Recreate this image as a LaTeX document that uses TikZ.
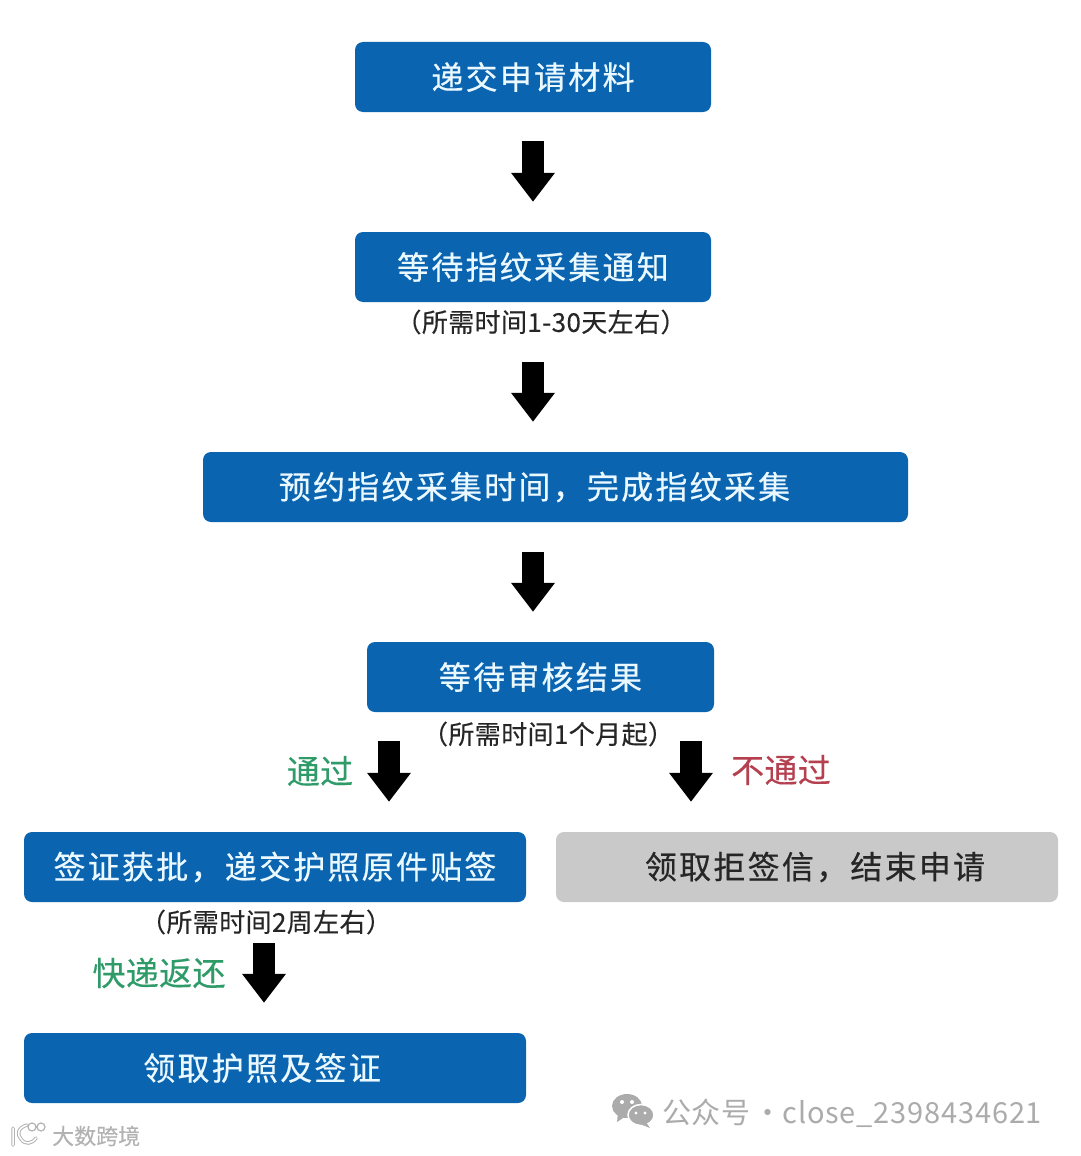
\documentclass[tikz,border=0pt]{standalone}
\usepackage{fontspec}
\setmainfont{Noto Sans CJK SC}
\usetikzlibrary{arrows.meta}
\definecolor{boxblue}{HTML}{0B64B0}
\definecolor{boxgrey}{HTML}{C9C9C9}
\definecolor{boxtext}{HTML}{EAF8FF}
\definecolor{passgreen}{HTML}{2E9B68}
\definecolor{failred}{HTML}{B5404F}
\definecolor{markgrey}{HTML}{ABABAB}
\tikzset{
	bluebox/.style={fill=boxblue, rounded corners=8pt, inner sep=0pt, minimum height=70pt, text=boxtext, font=\fontsize{32}{36}\selectfont\addfontfeature{LetterSpace=7,FakeBold=0.5}},
	greybox/.style={bluebox, fill=boxgrey, text=black!85},
	notetext/.style={text=black!85, font=\fontsize{26}{30}\selectfont\addfontfeature{LetterSpace=1.5,FakeBold=0.3}},
	passtext/.style={text=passgreen, font=\fontsize{33}{38}\selectfont\addfontfeature{LetterSpace=1,FakeBold=0.3}},
	failtext/.style={passtext, text=failred},
	marktext/.style={text=markgrey, font=\fontsize{29}{34}\selectfont\addfontfeature{LetterSpace=2.8}},
	fatarrow/.style={line width=22pt, -{Triangle[length=29pt,width=42pt]}}
}
\begin{document}
\begin{tikzpicture}[x=1pt,y=-1pt]
		\useasboundingbox (0,0) rectangle (1080,1156);
		\node (box1) [bluebox, minimum width=356pt] at (533,77) {递交申请材料};
		\node (box2) [bluebox, minimum width=356pt] at (533,267) {等待指纹采集通知};
		\node (box3) [bluebox, minimum width=705pt] at (555.5,487) {\hspace*{-42pt}\raisebox{2pt}{预约指纹采集时间，完成指纹采集}};
		\node (box4) [bluebox, minimum width=347pt] at (540.5,677) {等待审核结果};
		\node (box5) [bluebox, minimum width=502pt] at (275,867) {\raisebox{2pt}{签证获批，递交护照原件贴签}};
		\node (box6) [greybox, minimum width=502pt] at (807,867) {\hspace*{16pt}领取拒签信，结束申请};
		\node (box7) [bluebox, minimum width=502pt] at (275,1068) {\hspace*{-26pt}领取护照及签证};

		\node (note1) [notetext] at (541,322) {（所需时间1-30天左右）};
		\node (note2) [notetext] at (548,734) {（所需时间1个月起）};
		\node (note3) [notetext] at (266,922) {（所需时间2周左右）};
		\node (label1) [passtext] at (320,771) {通过};
		\node (label2) [failtext] at (781,770) {不通过};
		\node (label3) [passtext] at (159,973) {快递返还};

		\coordinate (passline) at (389,0);
		\coordinate (failline) at (691,0);
		\coordinate (mailline) at (264,0);

		% Arrows
		\draw[fatarrow, shorten <=29pt, shorten >=30pt] (box1.south) -- (box2.north);
		\draw[fatarrow, shorten <=60pt, shorten >=30pt] (box2.south) -- (box2.south |- box3.north);
		\draw[fatarrow, shorten <=30pt, shorten >=30pt] (box2.south |- box3.south) -- (box2.south |- box4.north);
		\draw[fatarrow, shorten <=29pt, shorten >=30pt] (box4.south -| passline) -- (box5.north -| passline);
		\draw[fatarrow, shorten <=29pt, shorten >=30pt] (box4.south -| failline) -- (box6.north -| failline);
		\draw[fatarrow, shorten <=41pt, shorten >=30pt] (box5.south -| mailline) -- (box7.north -| mailline);

		% Marks
		\fill[markgrey] (627,1106) ellipse [x radius=15, y radius=12];
		\fill[markgrey] (618,1113) -- (617,1122) -- (626,1116) -- cycle;
		\fill[markgrey, draw=white, line width=1.5pt] (641,1115) ellipse [x radius=13, y radius=10.5];
		\fill[markgrey] (646,1122) -- (650,1128) -- (640,1124) -- cycle;
		\fill[white] (622,1102) circle (2);
		\fill[white] (632,1102) circle (2);
		\fill[white] (636,1113) circle (1.6);
		\fill[white] (645,1113) circle (1.6);
		\node (mark1) [marktext, anchor=west, inner sep=0pt] at (662,1113) {公众号\hspace{-5pt} · \hspace{-7pt}close\_2398434621};
		\node (mark2) [marktext, anchor=west, inner sep=0pt, text=black!30, font=\fontsize{22}{26}\selectfont\addfontfeature{FakeBold=0.4}] at (52,1136) {大数跨境};
		\draw[black!30, line width=3.5pt, line cap=round] (13,1128) -- (13,1145) (27,1125) .. controls (17,1128) and (17,1135) .. (21,1139) .. controls (25,1145) and (32,1144) .. (36,1138);
		\draw[white, line width=1.5pt, line cap=round] (13,1128) -- (13,1145) (27,1125) .. controls (17,1128) and (17,1135) .. (21,1139) .. controls (25,1145) and (32,1144) .. (36,1138);
		\draw[black!30, line width=1.2pt] (32,1127) circle (4) (41,1127) circle (4);
	\end{tikzpicture}
\end{document}
